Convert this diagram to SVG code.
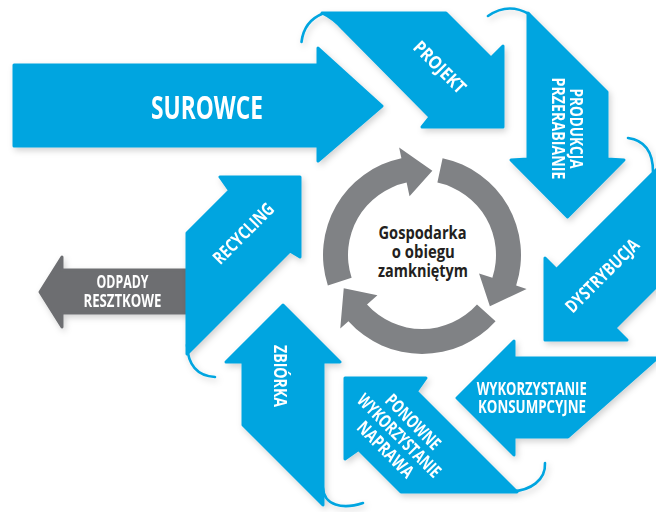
<svg xmlns="http://www.w3.org/2000/svg" width="656" height="512" viewBox="0 0 656 512">
  <defs>
    <filter id="shadow" x="-15%" y="-15%" width="135%" height="135%">
      <feDropShadow dx="2" dy="3" stdDeviation="3" flood-color="#000" flood-opacity="0.18"/>
    </filter>
    <style>
      .band { fill: #00a5e0; stroke: #00a5e0; stroke-width: 3; stroke-linejoin: round; }
      .curl { fill: none; stroke: #00a5e0; stroke-width: 2.6; stroke-linecap: round; }
      .waste { fill: #6d6e71; stroke: #6d6e71; stroke-width: 3; stroke-linejoin: round; }
      .cycle { fill: #808285; }
      .lbl { font-family: 'Open Sans', 'Liberation Sans', sans-serif; font-weight: 700; fill: #ffffff; font-size: 18px; text-anchor: middle; }
      .lbl.big { font-size: 31.5px; }
      .lbl.small { font-size: 17px; }
      .core { font-family: 'Open Sans', 'Liberation Sans', sans-serif; font-weight: 700; fill: #231f20; font-size: 18.5px; text-anchor: middle; }
    </style>
  </defs>

  <rect width="656" height="512" fill="#ffffff"/>

  <!-- residual waste leaving the loop -->
  <g id="odpady" filter="url(#shadow)">
    <path class="waste" d="M 195 270 H 62 V 257 L 40 292 L 62 327 V 313 H 195 Z"/>
    <text class="lbl small" x="122.5" y="288.3" textLength="52" lengthAdjust="spacingAndGlyphs">ODPADY</text>
    <text class="lbl small" x="122.5" y="306.7" textLength="78" lengthAdjust="spacingAndGlyphs">RESZTKOWE</text>
  </g>

  <!-- raw materials entering the loop -->
  <g id="surowce" filter="url(#shadow)">
    <path class="band" d="M 14 65 H 318 V 48 L 382 106 L 318 161 V 146 H 14 Z"/>
    <text class="lbl big" x="207" y="119" textLength="112" lengthAdjust="spacingAndGlyphs">SUROWCE</text>
  </g>

  <!-- the eight stages of the ring -->
  <g id="projekt" filter="url(#shadow)">
    <path class="band" d="M 322 13 L 446 13 L 491 58 L 503 46 L 503 127 L 422 127 L 430 117 L 343 29 Q 333 18 322 13 Z"/>
    <path class="curl" d="M 323 13.5 Q 304 21 301.5 42"/>
    <text class="lbl" transform="translate(440 67) rotate(45)" x="0" y="6.5" textLength="66" lengthAdjust="spacingAndGlyphs">PROJEKT</text>
  </g>

  <g id="produkcja" filter="url(#shadow)">
    <path class="band" d="M 528 13 L 607 92 L 607 159 L 624 160 L 567.5 217 L 511 160 L 528 159 Z"/>
    <path class="curl" d="M 488 16 Q 508 2 529 14"/>
    <g transform="translate(570 128.5) rotate(90)">
      <text class="lbl" x="0" y="0" textLength="80" lengthAdjust="spacingAndGlyphs">PRODUKCJA</text>
      <text class="lbl" x="0" y="18" textLength="102" lengthAdjust="spacingAndGlyphs">PRZERABIANIE</text>
    </g>
  </g>

  <g id="dystrybucja" filter="url(#shadow)">
    <path class="band" d="M 662 164 L 556.5 269.5 L 545 258 L 545 340 L 627 340 L 615 328 L 662 281 Z"/>
    <path class="curl" d="M 628 138 C 643 140 653 150 653 172"/>
    <text class="lbl" transform="translate(602 275.5) rotate(-45)" x="0" y="6.5" textLength="96" lengthAdjust="spacingAndGlyphs">DYSTRYBUCJA</text>
  </g>

  <g id="wykorzystanie" filter="url(#shadow)">
    <path class="band" d="M 568 437 L 514 437 L 514 455 L 457 398 L 514 341 L 514 358 L 662 358 L 662 354 Z"/>
    <text class="lbl" x="531.7" y="395" textLength="110" lengthAdjust="spacingAndGlyphs">WYKORZYSTANIE</text>
    <text class="lbl" x="532" y="412.7" textLength="108" lengthAdjust="spacingAndGlyphs">KONSUMPCYJNE</text>
  </g>

  <g id="ponowne" filter="url(#shadow)">
    <path class="band" d="M 345 378 L 426 378 L 416.5 391.5 L 517 492 L 401 492 L 358.5 449.5 L 345 459 Z"/>
    <path class="curl" d="M 512 491 C 530 491 546 480 545 463"/>
    <g transform="translate(417.5 417.5) rotate(45)">
      <text class="lbl" x="0" y="12.5" textLength="70" lengthAdjust="spacingAndGlyphs">PONOWNE</text>
      <text class="lbl" x="0" y="32" textLength="110" lengthAdjust="spacingAndGlyphs">WYKORZYSTANIE</text>
      <text class="lbl" x="0" y="51.5" textLength="72" lengthAdjust="spacingAndGlyphs">NAPRAWA</text>
    </g>
  </g>

  <g id="zbiorka" filter="url(#shadow)">
    <path class="band" d="M 283 305 L 340 362 L 323 362 L 323 505 L 243 425 L 243 362 L 226 362 Z"/>
    <path class="curl" d="M 323 488 C 324 505 342 510 363 503"/>
    <text class="lbl" transform="translate(273.5 376) rotate(90)" x="0" y="0" textLength="62" lengthAdjust="spacingAndGlyphs">ZBIÓRKA</text>
  </g>

  <g id="recycling" filter="url(#shadow)">
    <path class="band" d="M 300 177 L 300 257 L 290 251 L 187 354 L 187 233 L 229.5 190.5 L 220 177 Z"/>
    <path class="curl" d="M 187 345 C 188 366 198 376 215 377"/>
    <text class="lbl" transform="translate(243.3 233.3) rotate(-45)" x="0" y="6.5" textLength="78" lengthAdjust="spacingAndGlyphs">RECYCLING</text>
  </g>

  <!-- circular economy core: three arrows turning clockwise -->
  <g id="obieg">
    <path id="seg" class="cycle" d="M 327.85 285.59 A 99 99 0 0 1 401.42 158.16 L 399.13 147.40 L 432.36 170.63 L 409.53 196.31 L 406.61 182.62 A 74 74 0 0 0 351.62 277.87 Z"/>
    <use href="#seg" transform="rotate(120 422 255)"/>
    <use href="#seg" transform="rotate(240 422 255)"/>
    <text class="core" x="422.5" y="239.3" textLength="88" lengthAdjust="spacingAndGlyphs">Gospodarka</text>
    <text class="core" x="423.3" y="258.3" textLength="63" lengthAdjust="spacingAndGlyphs">o obiegu</text>
    <text class="core" x="423" y="277.3" textLength="90" lengthAdjust="spacingAndGlyphs">zamkniętym</text>
  </g>
</svg>
